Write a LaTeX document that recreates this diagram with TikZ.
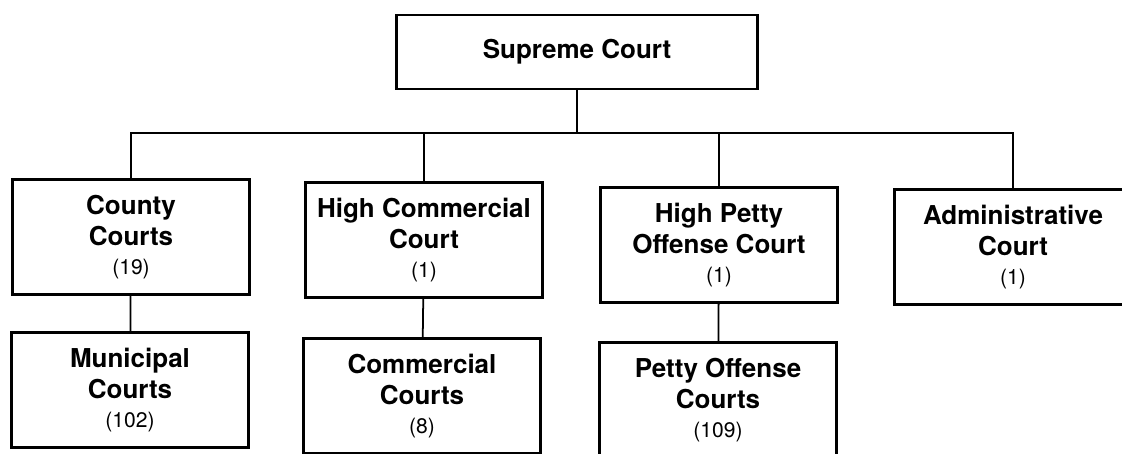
\documentclass[tikz,border=0pt]{standalone}
\usepackage{fontspec}
\setmainfont{TeX Gyre Heros}
\tikzset{
  court/.style={draw, line width=1.2pt, align=center, inner sep=0pt,
    minimum width=4.74cm, minimum height=2.3cm,
    font=\fontsize{14.8}{17.6}\selectfont\bfseries},
  link/.style={line width=1pt}
}
\newcommand{\nbcourts}[1]{\\[-1.4pt]{\fontsize{12}{14}\selectfont\mdseries (#1)}}

\begin{document}
\begin{tikzpicture}[x=0.02cm, y=-0.02cm]
    \useasboundingbox (0,0) rectangle (1122,453);
    \clip (0,0) rectangle (1122,453);

    % Cour supreme
    \node[court, minimum width=7.22cm, minimum height=1.48cm] (sup) at (577,52) {Supreme Court};
    \coordinate (bus) at (577,133);

    % Premier niveau
    \node[court] (cty) at (131,237) {County\\Courts\nbcourts{19}};
    \node[court] (hcom) at (424,240) {High Commercial\\Court\nbcourts{1}};
    \node[court] (hpet) at (719,245) {High Petty\\Offense Court\nbcourts{1}};
    \node[court] (adm) at (1013,247) {Administrative\\Court\nbcourts{1}};

    % Second niveau
    \node[court] (mun) at (130,390) {Municipal\\Courts\nbcourts{102}};
    \node[court] (com) at (422,396) {Commercial\\Courts\nbcourts{8}};
    \node[court] (pet) at (718,400) {Petty Offense\\Courts\nbcourts{109}};

    % Liens
    \draw[link] (sup) -- (bus);
    \draw[link] (cty.north) |- (bus) -| (adm.north);
    \draw[link] (hcom.north) -- (hcom.north |- bus);
    \draw[link] (hpet.north) -- (hpet.north |- bus);
    \draw[link] (cty) -- (mun);
    \draw[link] (hcom) -- (com);
    \draw[link] (hpet) -- (pet);
\end{tikzpicture}
\end{document}
